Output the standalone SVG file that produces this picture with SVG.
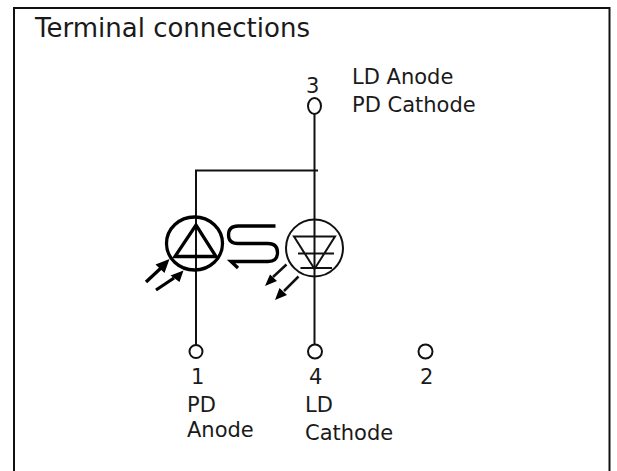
<svg xmlns="http://www.w3.org/2000/svg" width="617" height="471" viewBox="0 0 617 471">
<style>
text{font-family:"DejaVu Sans",sans-serif;fill:#1a1a1a;font-size:21px}
.w{fill:none;stroke:#111;stroke-width:2}
.o{fill:#fff;stroke:#111;stroke-width:2}
.b{fill:none;stroke:#000;stroke-width:3.3}
.f{fill:#000;stroke:none}
</style>
<rect width="617" height="471" fill="#fff"/>
<g id="frame"><path class="w" d="M14 471V8H609.5V471"/></g>
<g id="title"><text x="35" y="37" style="font-size:26px">Terminal connections</text></g>
<g id="connectors">
<path class="w" d="M314.5 114V345M196 345V170.5H318"/>
</g>
<g id="terminal3"><ellipse class="o" cx="314.5" cy="106" rx="6.5" ry="8"/><text x="306" y="93">3</text><text x="352" y="84">LD Anode</text><text x="352" y="112">PD Cathode</text></g>
<g id="terminal1"><circle class="o" cx="196" cy="351.5" r="6.5"/><text x="191" y="384">1</text><text x="187" y="412">PD</text><text x="187" y="437">Anode</text></g>
<g id="terminal4"><circle class="o" cx="315" cy="351.5" r="7"/><text x="309" y="384">4</text><text x="305" y="412">LD</text><text x="305" y="440">Cathode</text></g>
<g id="terminal2"><circle class="o" cx="425.5" cy="351.5" r="7"/><text x="420" y="384">2</text></g>
<g id="photodiode">
<ellipse class="b" cx="194.5" cy="243.5" rx="28" ry="26.5"/>
<path class="b" d="M175 256.5H216L196 225Z"/>
<path class="b" d="M146 282L161 268M156 290L174 278"/>
<path class="f" d="M169.5 259L164.5 273L155.5 264.5ZM183.5 270.5L179.5 282L170.5 275.5Z"/>
</g>
<g id="coupling">
<path class="b" d="M275.5 226H238Q228.5 226 228.5 235Q228.5 243.5 238 243.5H268Q277.5 243.5 277.5 252.5Q277.5 261.5 268 261.5H231L238 268"/>
</g>
<g id="laserdiode">
<circle class="w" cx="314.5" cy="248" r="28.5"/>
<path class="w" d="M294 236.5H335L314.5 269ZM298 253.5H334M300.5 268H332"/>
<path class="w" d="M286.5 264.5L273 277M298.5 276.5L284 291" style="stroke-width:2.5"/>
<path class="f" d="M265 286L270 274.5L277 281ZM275 300L279.5 288L287 295Z"/>
</g>
</svg>
